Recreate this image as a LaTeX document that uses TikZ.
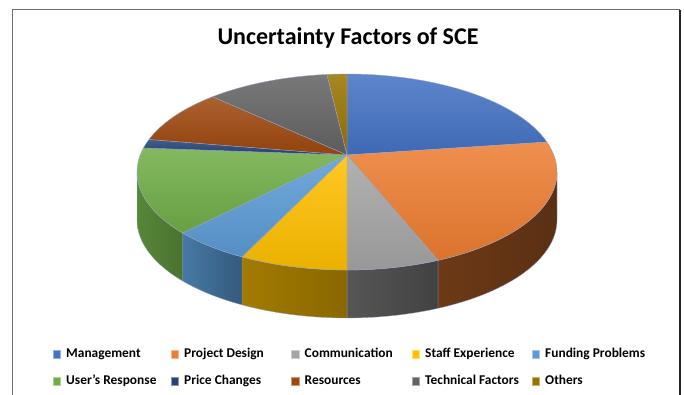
\documentclass[tikz,border=0pt]{standalone}
\usepackage{fontspec}
\setmainfont{Carlito}
\usetikzlibrary{calc}
\definecolor{mgmt}{HTML}{4472C4}
\definecolor{proj}{HTML}{ED7D31}
\definecolor{comm}{HTML}{A5A5A5}
\definecolor{staff}{HTML}{FFC000}
\definecolor{fund}{HTML}{5B9BD5}
\definecolor{user}{HTML}{70AD47}
\definecolor{price}{HTML}{264478}
\definecolor{res}{HTML}{9E480E}
\definecolor{tech}{HTML}{636363}
\definecolor{others}{HTML}{997300}
\definecolor{edge}{RGB}{150,165,200}
\definecolor{frameg}{RGB}{110,110,110}
\newcommand\pietop[3]{%
  \shade[top color=#1!86!white, bottom color=#1!92!black, draw=edge, line width=.35pt]
    (A) -- ($(C)+(#2:210pt and 98pt)$)
    arc[start angle=#2, end angle=#3, x radius=210pt, y radius=98pt] -- cycle;}
\newcommand\pieside[4]{%
  \shade[left color=#1, right color=#2, draw=edge, line width=.3pt]
    ($(C)+(#3:210pt and 98pt)$)
    arc[start angle=#3, end angle=#4, x radius=210pt, y radius=98pt]
    -- ($(Cb)+(#4:210pt and 98pt)$)
    arc[start angle=#4, end angle=#3, x radius=210pt, y radius=98pt] -- cycle;}
\tikzset{
  legsq/.style={minimum size=7.5pt, inner sep=0pt, draw=#1!55!white, line width=.4pt, fill=#1},
  legtxt/.style={anchor=base west, inner sep=0pt, font=\fontsize{13.4}{16}\selectfont\bfseries}
}
\begin{document}
\begin{tikzpicture}[x=1pt,y=1pt]
\useasboundingbox (0,0) rectangle (684,394);
% frame
\draw[frameg, line width=1.6pt] (12.5,-2) -- (12.5,384.3) -- (680,384.3);
\draw[black!85, line width=1.8pt] (680,384.3) -- (680,-2);
% title
\node[anchor=base, inner sep=0pt, font=\fontsize{24}{28}\selectfont\bfseries] (title) at (348,349) {Uncertainty Factors of SCE};
% pie geometry
\coordinate (C) at (347,222);
\coordinate (Cb) at (347,174);
\coordinate (A) at (347,239);
% sides
\pieside{proj!46!black}{proj!38!black}{0}{-64.3}
\pieside{comm!52!black}{comm!40!black}{-64.3}{-90}
\pieside{staff!64!black}{staff!54!black}{-90}{-120}
\pieside{fund!78!black}{fund!58!black}{-120}{-141.5}
\pieside{user!78!black}{user!66!black}{-141.5}{-180}
% tops
\pietop{mgmt}{90}{17.8}
\pietop{proj}{17.8}{-64.3}
\pietop{comm}{-64.3}{-90}
\pietop{staff}{-90}{-120}
\pietop{fund}{-120}{-141.5}
\pietop{user}{-141.5}{-194.2}
\pietop{price}{-194.2}{-199.4}
\pietop{res}{-199.4}{-230.2}
\pietop{tech}{-230.2}{-264.5}
\pietop{others}{-264.5}{-270}
% legend row 1
\node[legsq=mgmt] (q1) at (56.5,40) {};
\node[legtxt] (l1) at (66,36.3) {Management};
\node[legsq=proj] (q2) at (174.5,40) {};
\node[legtxt] (l2) at (184,36.3) {Project Design};
\node[legsq=comm] (q3) at (295,40) {};
\node[legtxt] (l3) at (304.5,36.3) {Communication};
\node[legsq=staff] (q4) at (415.5,40) {};
\node[legtxt] (l4) at (425,36.3) {Staff Experience};
\node[legsq=fund] (q5) at (535.5,40) {};
\node[legtxt] (l5) at (545,36.3) {Funding Problems};
% legend row 2
\node[legsq=user] (q6) at (56.5,13) {};
\node[legtxt] (l6) at (66,9.5) {User\char39 s Response};
\node[legsq=price] (q7) at (174.5,13) {};
\node[legtxt] (l7) at (184,9.5) {Price Changes};
\node[legsq=res] (q8) at (295,13) {};
\node[legtxt] (l8) at (304.5,9.5) {Resources};
\node[legsq=tech] (q9) at (415.5,13) {};
\node[legtxt] (l9) at (425,9.5) {Technical Factors};
\node[legsq=others] (q10) at (535.5,13) {};
\node[legtxt] (l10) at (545,9.5) {Others};
\end{tikzpicture}
\end{document}
